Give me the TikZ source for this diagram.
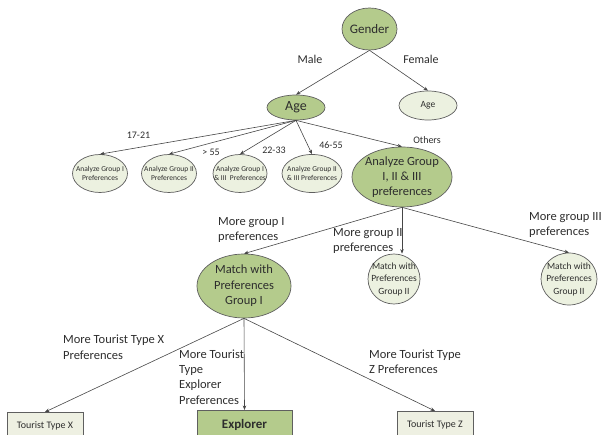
\documentclass[tikz,border=0pt]{standalone}
\usepackage{fontspec}
\setmainfont{Carlito}
\usetikzlibrary{shapes.geometric,arrows.meta}

\definecolor{darkgreen}{RGB}{180,203,140}
\definecolor{lightgreen}{RGB}{236,241,224}
\definecolor{boxfill}{RGB}{238,240,226}
\definecolor{edgegray}{RGB}{95,95,95}
\definecolor{linegray}{RGB}{70,70,70}
\definecolor{txt}{RGB}{45,45,45}

\newcommand{\fsz}[2]{\fontsize{#1}{#2}\selectfont}

\tikzset{
  oval/.style={ellipse, draw=edgegray, line width=0.7pt, inner sep=0pt},
  darkoval/.style={oval, fill=darkgreen},
  lightoval/.style={oval, fill=lightgreen},
  etext/.style={inner sep=0pt, align=center, text=txt},
  leaf/.style={rectangle, draw=edgegray, line width=0.7pt, anchor=north, inner sep=0pt,
               text=txt, minimum height=30pt},
  link/.style={draw=linegray, line width=0.6pt, -{Stealth[length=4.5pt,width=3.5pt]}},
  lbl/.style={inner sep=0pt, align=left, text=txt, anchor=west},
  clbl/.style={inner sep=0pt, text=txt},
}

\begin{document}
\begin{tikzpicture}[x=1pt,y=-1pt]
\useasboundingbox (0,0) rectangle (601,435);
\clip (0,0) rectangle (601,435);

% top levels
\node[darkoval, minimum width=55pt, minimum height=42pt,
      label={[etext,font=\fsz{13}{15}]center:Gender}] (gender) at (369.5,29) {};
\node[darkoval, minimum width=58pt, minimum height=25pt,
      label={[etext,font=\fsz{14}{16}]center:Age}] (age) at (296,107.5) {};
\node[lightoval, minimum width=58pt, minimum height=29pt,
      label={[etext,font=\fsz{9.5}{11}]center:Age}] (agef) at (428,105.5) {};

% age groups
\node[lightoval, minimum width=55pt, minimum height=38pt,
      label={[etext,font=\fsz{7.5}{9.5}]center:Analyze Group I\\ Preferences}] (e1) at (100,173.5) {};
\node[lightoval, minimum width=55pt, minimum height=38pt,
      label={[etext,font=\fsz{7.5}{9.5}]center:Analyze Group II\\Preferences}] (e2) at (169,173.5) {};
\node[lightoval, minimum width=54pt, minimum height=38pt,
      label={[etext,font=\fsz{7.5}{9.5}]center:Analyze Group I\\\& III\ \ Preferences}] (e3) at (240,173.5) {};
\node[lightoval, minimum width=60pt, minimum height=38pt,
      label={[etext,font=\fsz{7.5}{9.5}]center:Analyze Group II\\\& III Preferences}] (e4) at (312,173.5) {};
\node[darkoval, minimum width=100pt, minimum height=60pt,
      label={[etext,font=\fsz{12.5}{15}]center:Analyze Group\\I, II \& III\\preferences}] (big) at (402,177) {};

% preference matches
\node[darkoval, minimum width=94pt, minimum height=64pt,
      label={[etext,font=\fsz{12.5}{15.5}]center:Match with\\Preferences\\Group I}] (m1) at (244,286) {};
\node[lightoval, minimum width=52pt, minimum height=50pt,
      label={[etext,font=\fsz{9.5}{12.5}]center:Match with\\Preferences\\Group II}] (m2) at (394,279) {};
\node[lightoval, minimum width=56pt, minimum height=52pt,
      label={[etext,font=\fsz{9.5}{12.5}]center:Match with\\Preferences\\Group II}] (m3) at (569,279) {};

% tourist types (boxes run past the lower edge)
\node[leaf, fill=boxfill, minimum width=76pt, font=\fsz{10}{12}] (tx) at (45,412)
     {\raisebox{0pt}[0pt][0pt]{\raisebox{-1pt}{Tourist Type X}}};
\node[leaf, fill=darkgreen, minimum width=95pt, font=\fsz{13}{15}\bfseries] (ex) at (244.5,410)
     {\raisebox{0pt}[0pt][0pt]{\raisebox{-3.5pt}{Explorer}}};
\node[leaf, fill=boxfill, minimum width=76pt, font=\fsz{10}{12}] (tz) at (435,411)
     {\raisebox{0pt}[0pt][0pt]{\raisebox{-1pt}{Tourist Type Z}}};

% connectors
\draw[link] (gender.south) -- (age.north);
\draw[link] (gender.south) -- (agef.north);
\draw[link] (age.south) -- (e1.north);
\draw[link] (age.south) -- (e2.north);
\draw[link] (age.south) -- (e3.north);
\draw[link] (age.south) -- (e4.north);
\draw[link] (age.south) -- (big.north);
\draw[link] (big.south) -- (m1.north);
\draw[link] (big.south) -- (big.south |- m2.north);
\draw[link] (big.south) -- (m3.north);
\draw[link] (m1.south) -- (tx.north);
\draw[link] (m1.south) -- (ex.north);
\draw[link] (m1.south) -- (tz.north);

% branch labels
\node[clbl, font=\fsz{12}{14}] (lmale) at (310,59) {Male};
\node[clbl, font=\fsz{12}{14}] (lfemale) at (421,59) {Female};
\node[clbl, font=\fsz{10}{12}] (l1721) at (138.5,135) {17-21};
\node[clbl, font=\fsz{10}{12}] (l55) at (211,152) {> 55};
\node[clbl, font=\fsz{10}{12}] (l2233) at (274,150) {22-33};
\node[clbl, font=\fsz{10}{12}] (l4655) at (331,145) {46-55};
\node[clbl, font=\fsz{10}{12}] (lothers) at (427,140) {Others};

\node[lbl, font=\fsz{12.5}{15}] (lg1) at (218,230) {More group I\\preferences};
\node[lbl, font=\fsz{12.5}{15}] (lg2) at (333,240.5) {More group II\\preferences};
\node[lbl, font=\fsz{12.5}{15}] (lg3) at (529,225) {More group III\\preferences};
\node[lbl, font=\fsz{12.5}{15.5}] (ltx) at (63,347) {More Tourist Type X\\Preferences};
\node[lbl, font=\fsz{12.5}{15.3}] (lex) at (179,377) {More Tourist\\Type\\Explorer\\Preferences};
\node[lbl, font=\fsz{12.5}{15}] (ltz) at (369,361.5) {More Tourist Type\\Z Preferences};
\end{tikzpicture}
\end{document}
